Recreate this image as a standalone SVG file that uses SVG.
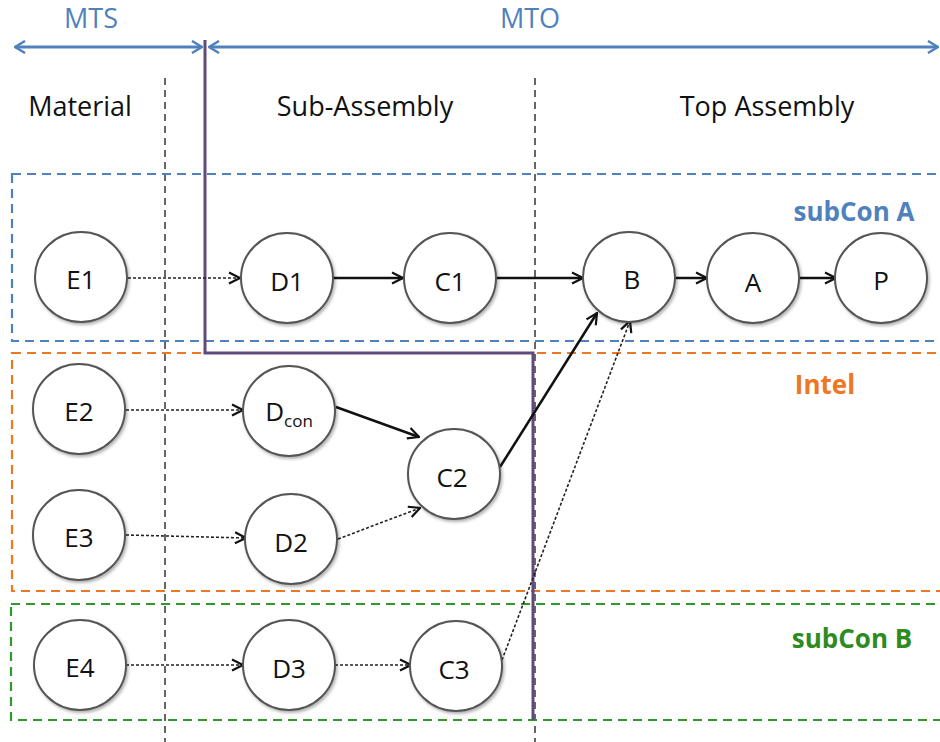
<svg xmlns="http://www.w3.org/2000/svg" width="940" height="742" viewBox="0 0 940 742">
<defs>
<marker id="ah" viewBox="0 0 14 14" refX="13" refY="7" markerWidth="14" markerHeight="14" markerUnits="userSpaceOnUse" orient="auto">
<path d="M2,1.5 L13,7 L2,12.5" fill="none" stroke="#111" stroke-width="2.2"/>
</marker>
<marker id="bh" viewBox="0 0 14 14" refX="13" refY="7" markerWidth="14" markerHeight="14" markerUnits="userSpaceOnUse" orient="auto-start-reverse">
<path d="M3,1 L13,7 L3,13" fill="none" stroke="#4F81BD" stroke-width="2.5"/>
</marker>
<filter id="sh" x="-20%" y="-20%" width="150%" height="150%">
<feDropShadow dx="1.5" dy="2" stdDeviation="1.5" flood-color="#000" flood-opacity="0.3"/>
</filter>
</defs>
<style>
.node ellipse{fill:#fff;stroke:#555;stroke-width:2;filter:url(#sh)}
.node text{font-family:"Open Sans","Liberation Sans",sans-serif;font-size:26px;fill:#111;text-anchor:middle}
.hdr{font-family:"Open Sans","Liberation Sans",sans-serif;font-size:27px;fill:#111;text-anchor:middle}
.top{font-family:"Open Sans","Liberation Sans",sans-serif;font-size:27px;fill:#4F81BD;text-anchor:middle}
.grp{font-family:"Open Sans","Liberation Sans",sans-serif;font-size:26px;font-weight:bold;text-anchor:middle}
.solid{stroke:#111;stroke-width:2.5;fill:none;marker-end:url(#ah)}
.dot{stroke:#222;stroke-width:1.6;fill:none;stroke-dasharray:3 2;marker-end:url(#ah)}
.vd{stroke:#666;stroke-width:2;stroke-dasharray:7 5}
</style>
<rect width="940" height="742" fill="#fff"/>

<g id="columns">
<line class="vd" x1="165" y1="78" x2="165" y2="742"/>
<line class="vd" x1="535" y1="78" x2="535" y2="742"/>
</g>

<g id="groups">
<rect x="12" y="174" width="940" height="167" fill="none" stroke="#4F81BD" stroke-width="2.2" stroke-dasharray="9 6"/>
<rect x="12" y="353" width="940" height="238" fill="none" stroke="#EE7722" stroke-width="2.2" stroke-dasharray="9 6"/>
<rect x="11" y="604" width="940" height="116" fill="none" stroke="#2E9A2E" stroke-width="2.2" stroke-dasharray="9 6"/>
<text class="grp" x="854" y="221" fill="#4F81BD">subCon A</text>
<text class="grp" x="825" y="394" fill="#EE7722">Intel</text>
<text class="grp" x="852" y="648" fill="#2E8B22">subCon B</text>
</g>

<g id="headers">
<text class="top" x="91" y="28">MTS</text>
<text class="top" x="530" y="28">MTO</text>
<line x1="15" y1="47" x2="202" y2="47" stroke="#4F81BD" stroke-width="3" marker-start="url(#bh)" marker-end="url(#bh)"/>
<line x1="209" y1="47" x2="938" y2="47" stroke="#4F81BD" stroke-width="3" marker-start="url(#bh)" marker-end="url(#bh)"/>
<text class="hdr" x="80" y="116">Material</text>
<text class="hdr" x="365" y="116">Sub-Assembly</text>
<text class="hdr" x="767" y="116">Top Assembly</text>
</g>

<g id="boundary">
<polyline points="205,40 205,353 533,353 533,720" fill="none" stroke="#604A7B" stroke-width="3"/>
</g>

<g id="connectors">
<line class="dot" x1="128" y1="278" x2="240" y2="278"/>
<line class="solid" x1="333" y1="278" x2="403" y2="278"/>
<line class="solid" x1="497" y1="278" x2="583" y2="278"/>
<line class="solid" x1="675" y1="278" x2="707" y2="278"/>
<line class="solid" x1="800" y1="278" x2="836" y2="278"/>
<line class="dot" x1="126" y1="410" x2="243" y2="410"/>
<line class="solid" x1="336" y1="407" x2="419" y2="437"/>
<line class="dot" x1="126" y1="535" x2="246" y2="538"/>
<line class="dot" x1="338" y1="539" x2="420" y2="508"/>
<line class="solid" x1="500" y1="467" x2="597" y2="313"/>
<line class="dot" x1="502" y1="660" x2="630" y2="321"/>
<line class="dot" x1="126" y1="665" x2="243" y2="665"/>
<line class="dot" x1="335" y1="665" x2="411" y2="665"/>
</g>

<g id="E1" class="node"><ellipse cx="81" cy="277" rx="46" ry="45"/><text x="81" y="289">E1</text></g>
<g id="D1" class="node"><ellipse cx="287" cy="278" rx="46" ry="45"/><text x="287" y="291">D1</text></g>
<g id="C1" class="node"><ellipse cx="450" cy="278" rx="46" ry="45"/><text x="450" y="291">C1</text></g>
<g id="B" class="node"><ellipse cx="629" cy="277" rx="46" ry="45"/><text x="632" y="289">B</text></g>
<g id="A" class="node"><ellipse cx="753" cy="278" rx="46" ry="45"/><text x="753" y="292">A</text></g>
<g id="P" class="node"><ellipse cx="881" cy="278" rx="46" ry="45"/><text x="881" y="290">P</text></g>
<g id="E2" class="node"><ellipse cx="79" cy="409" rx="46" ry="45"/><text x="79" y="421">E2</text></g>
<g id="Dcon" class="node"><ellipse cx="289" cy="411" rx="46" ry="45"/><text x="289" y="421"><tspan>D</tspan><tspan font-size="17" dy="6">con</tspan></text></g>
<g id="C2" class="node"><ellipse cx="454" cy="474" rx="46" ry="45"/><text x="452" y="487">C2</text></g>
<g id="E3" class="node"><ellipse cx="79" cy="535" rx="46" ry="45"/><text x="79" y="547">E3</text></g>
<g id="D2" class="node"><ellipse cx="291" cy="539" rx="46" ry="45"/><text x="291" y="552">D2</text></g>
<g id="E4" class="node"><ellipse cx="80" cy="665" rx="46" ry="45"/><text x="80" y="677">E4</text></g>
<g id="D3" class="node"><ellipse cx="289" cy="665" rx="46" ry="45"/><text x="289" y="678">D3</text></g>
<g id="C3" class="node"><ellipse cx="456" cy="666" rx="46" ry="45"/><text x="454" y="679">C3</text></g>
</svg>
